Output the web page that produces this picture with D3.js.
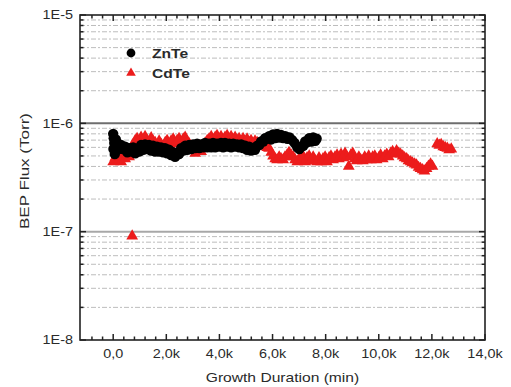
<!DOCTYPE html>
<html>
<head>
<meta charset="utf-8">
<script src="https://cdn.jsdelivr.net/npm/d3@7"></script>
<style>
  body { margin: 0; background: #fff; }
  svg { display: block; }
  text { font-family: "Liberation Sans", Arial, sans-serif; fill: #2a2a2a; }
</style>
</head>
<body>
<div id="chart"></div>
<script>
// ZnTe BEP flux (Torr) vs growth time (min)
const znteTime = [0, 20, 40, 10, 60, 100, 140, 200, 300, 380, 450, 530, 600, 680, 750, 830, 900, 980,
  1050, 1130, 1200, 1280, 1350, 1430, 1500, 1580, 1650, 1730, 1800, 1880, 1950, 2030, 2100, 2180,
  2250, 2330, 2400, 2480, 2560, 2640, 2710, 2790, 2860, 2940, 3010, 3090, 3160, 3240, 3310, 3390,
  3460, 3540, 3610, 3690, 3760, 3840, 3910, 3990, 4060, 4140, 4210, 4290, 4370, 4440, 4520, 4590,
  4670, 4740, 4820, 4890, 4970, 5040, 5120, 5190, 5270, 5340, 5420, 5500, 5570, 5650, 5720, 5800,
  5870, 5950, 6020, 6100, 6170, 6250, 6320, 6400, 6480, 6560, 6640, 6740, 6830, 6930, 7010, 7080,
  7160, 7230, 7310, 7380, 7460, 7530, 7610, 7660];
const znteFlux = [8.0e-7, 7.3e-7, 6.6e-7, 5.8e-7, 5.2e-7, 7.1e-7, 6.1e-7, 5.8e-7, 6.3e-7, 5.8e-7, 6.1e-7,
  5.4e-7, 5.9e-7, 5.5e-7, 6.0e-7, 5.3e-7, 5.8e-7, 5.5e-7, 6.3e-7, 5.7e-7, 6.4e-7, 5.8e-7, 6.3e-7,
  5.6e-7, 6.2e-7, 5.5e-7, 6.1e-7, 5.5e-7, 6.0e-7, 5.4e-7, 5.9e-7, 5.3e-7, 5.7e-7, 5.1e-7, 5.4e-7,
  4.9e-7, 5.3e-7, 5.2e-7, 5.9e-7, 5.6e-7, 6.2e-7, 5.7e-7, 6.3e-7, 5.8e-7, 6.4e-7, 5.9e-7, 6.5e-7,
  5.9e-7, 6.4e-7, 6.0e-7, 6.6e-7, 6.0e-7, 6.5e-7, 6.0e-7, 6.6e-7, 6.0e-7, 6.5e-7, 6.1e-7, 6.6e-7,
  6.0e-7, 6.6e-7, 6.1e-7, 6.5e-7, 6.0e-7, 6.5e-7, 6.1e-7, 6.4e-7, 6.0e-7, 6.4e-7, 5.9e-7, 6.2e-7,
  5.7e-7, 6.1e-7, 5.6e-7, 5.9e-7, 5.7e-7, 6.2e-7, 6.3e-7, 6.8e-7, 6.8e-7, 7.3e-7, 7.2e-7, 7.6e-7,
  7.1e-7, 7.9e-7, 7.3e-7, 8.0e-7, 7.4e-7, 7.8e-7, 7.3e-7, 7.6e-7, 7.2e-7, 7.4e-7, 7.0e-7, 6.6e-7,
  6.0e-7, 5.8e-7, 6.1e-7, 6.2e-7, 6.8e-7, 6.7e-7, 7.3e-7, 6.8e-7, 7.4e-7, 6.9e-7, 7.2e-7];

// CdTe BEP flux (Torr) vs growth time (min)
const cdteTime = [0, 75, 150, 230, 300, 380, 450, 530, 600, 680, 715, 750, 830, 900, 980, 1050, 1130,
  1200, 1280, 1350, 1430, 1500, 1580, 1660, 1730, 1810, 1880, 1960, 2030, 2110, 2180, 2260, 2330,
  2410, 2480, 2560, 2640, 2710, 2790, 2860, 2940, 3010, 3090, 3160, 3240, 3310, 3390, 3460, 3540,
  3610, 3690, 3760, 3840, 3910, 3990, 4060, 4140, 4210, 4290, 4370, 4440, 4520, 4590, 4670, 4740,
  4820, 4890, 4970, 5040, 5120, 5190, 5270, 5340, 5420, 5500, 5570, 5650, 5720, 5800, 5870, 5950,
  6020, 6100, 6170, 6250, 6320, 6400, 6470, 6550, 6620, 6700, 6780, 6850, 6930, 7000, 7080, 7150,
  7230, 7300, 7380, 7450, 7530, 7600, 7680, 7750, 7830, 7900, 7980, 8050, 8130, 8200, 8280, 8350,
  8430, 8500, 8580, 8650, 8730, 8800, 8870, 8950, 9020, 9100, 9170, 9250, 9320, 9400, 9470, 9550,
  9620, 9700, 9770, 9850, 9920, 10000, 10070, 10150, 10220, 10300, 10370, 10450, 10520, 10600,
  10670, 10750, 10820, 10900, 10970, 11050, 11120, 11200, 11270, 11350, 11420, 11500, 11570, 11650,
  11720, 11800, 11870, 11950, 12020, 12200, 12280, 12350, 12430, 12500, 12580, 12650, 12730];
const cdteFlux = [4.5e-7, 4.9e-7, 5.4e-7, 4.7e-7, 4.5e-7, 5.1e-7, 4.8e-7, 5.4e-7, 5.0e-7, 6.0e-7, 9.3e-8,
  6.5e-7, 7.1e-7, 7.4e-7, 6.8e-7, 7.6e-7, 7.0e-7, 7.7e-7, 7.1e-7, 6.8e-7, 7.5e-7, 7.0e-7, 6.8e-7,
  6.4e-7, 7.0e-7, 6.5e-7, 6.3e-7, 6.8e-7, 7.1e-7, 6.5e-7, 7.0e-7, 7.3e-7, 6.6e-7, 7.1e-7, 7.4e-7,
  6.8e-7, 7.3e-7, 7.6e-7, 6.9e-7, 6.6e-7, 6.2e-7, 5.8e-7, 5.4e-7, 5.9e-7, 6.3e-7, 5.6e-7, 6.2e-7,
  6.7e-7, 7.1e-7, 7.3e-7, 7.7e-7, 7.2e-7, 7.6e-7, 7.9e-7, 7.2e-7, 7.7e-7, 7.2e-7, 7.6e-7, 7.9e-7,
  7.2e-7, 7.7e-7, 7.2e-7, 7.6e-7, 7.1e-7, 7.4e-7, 6.9e-7, 7.4e-7, 6.9e-7, 7.3e-7, 6.8e-7, 7.1e-7,
  6.6e-7, 7.0e-7, 6.8e-7, 6.5e-7, 6.8e-7, 6.3e-7, 6.6e-7, 6.1e-7, 6.0e-7, 5.5e-7, 5.1e-7, 4.8e-7,
  4.7e-7, 5.0e-7, 4.8e-7, 4.7e-7, 5.0e-7, 5.2e-7, 5.5e-7, 5.2e-7, 5.0e-7, 4.7e-7, 4.5e-7, 4.8e-7,
  4.6e-7, 5.1e-7, 4.5e-7, 4.9e-7, 5.1e-7, 4.6e-7, 5.0e-7, 4.6e-7, 4.5e-7, 4.9e-7, 4.5e-7, 4.8e-7,
  5.0e-7, 4.5e-7, 4.9e-7, 5.1e-7, 4.7e-7, 5.0e-7, 5.2e-7, 4.8e-7, 5.3e-7, 4.9e-7, 5.4e-7, 5.0e-7,
  4.1e-7, 5.2e-7, 5.4e-7, 4.8e-7, 4.6e-7, 5.0e-7, 4.7e-7, 4.6e-7, 5.0e-7, 4.7e-7, 5.1e-7, 4.7e-7,
  5.0e-7, 5.1e-7, 4.7e-7, 4.9e-7, 5.2e-7, 4.8e-7, 5.1e-7, 5.3e-7, 5.0e-7, 5.4e-7, 5.6e-7, 5.3e-7,
  5.7e-7, 5.4e-7, 5.3e-7, 5.1e-7, 4.9e-7, 4.8e-7, 4.6e-7, 4.5e-7, 4.4e-7, 4.3e-7, 4.2e-7, 4.0e-7,
  3.9e-7, 3.8e-7, 3.7e-7, 3.9e-7, 4.1e-7, 4.3e-7, 4.1e-7, 6.6e-7, 6.4e-7, 6.5e-7, 6.2e-7, 6.1e-7,
  6.0e-7, 5.8e-7, 5.9e-7];

const xTickValues = [0, 2000, 4000, 6000, 8000, 10000, 12000, 14000];
const xTickLabels = ["0,0", "2,0k", "4,0k", "6,0k", "8,0k", "10,0k", "12,0k", "14,0k"];
const yTickValues = [1e-8, 1e-7, 1e-6, 1e-5];
const yTickLabels = ["1E-8", "1E-7", "1E-6", "1E-5"];
const seriesNames = ["ZnTe", "CdTe"];

const width = 511, height = 387;
const margin = { top: 15, right: 26, bottom: 47, left: 80 };
const stretchX = 1.2; // the picture is widened a little

const svg = d3.select("#chart").append("svg")
  .attr("width", width).attr("height", height);

const x = d3.scaleLinear().domain([-1250, 14000]).range([margin.left, width - margin.right]);
const y = d3.scaleLog().domain([1e-8, 1e-5]).range([height - margin.bottom, margin.top]);

const x0 = margin.left, x1 = width - margin.right;
const y0 = height - margin.bottom, y1 = margin.top;

function widen(sel, f) {
  sel.each(function () {
    const w = this.getComputedTextLength();
    d3.select(this).attr("textLength", w * f).attr("lengthAdjust", "spacingAndGlyphs");
  });
}

// dashed minor grid
const minorY = y.ticks().filter((d) => !yTickValues.some((v) => Math.abs(v - d) / v < 1e-6));
svg.append("g")
  .selectAll("line")
  .data(minorY)
  .enter()
  .append("line")
  .attr("x1", x0).attr("x2", x1)
  .attr("y1", (d) => y(d)).attr("y2", (d) => y(d))
  .attr("stroke", "#bdbdbd")
  .attr("stroke-width", 1)
  .attr("stroke-dasharray", "5,2,2,2");

// decade lines
svg.append("g")
  .selectAll("line")
  .data([1e-7, 1e-6])
  .enter()
  .append("line")
  .attr("x1", x0).attr("x2", x1)
  .attr("y1", (d) => y(d)).attr("y2", (d) => y(d))
  .attr("stroke", (d) => (d === 1e-6 ? "#6e6e6e" : "#a8a8a8"))
  .attr("stroke-width", 2);

// data
const cdte = cdteTime.map((t, i) => [t, cdteFlux[i]]);
const znte = znteTime.map((t, i) => [t, znteFlux[i]]);
const tri = d3.symbol().type(d3.symbolTriangle).size(60);

svg.append("g")
  .selectAll("path")
  .data(cdte)
  .enter()
  .append("path")
  .attr("d", tri)
  .attr("transform", (d) => `translate(${x(d[0])},${y(d[1]) + 1})`)
  .attr("fill", "#ec1c1c");

svg.append("g")
  .selectAll("circle")
  .data(znte)
  .enter()
  .append("circle")
  .attr("cx", (d) => x(d[0]))
  .attr("cy", (d) => y(d[1]))
  .attr("r", 5.2)
  .attr("fill", "#000");

// axes (ticks point inward)
const xMinor = d3.range(-800, 14001, 400).filter((d) => d % 2000 !== 0);

function tickRow(yPos, dir) {
  const g = svg.append("g");
  g.selectAll(".minor")
    .data(xMinor)
    .enter()
    .append("line")
    .attr("x1", (d) => x(d)).attr("x2", (d) => x(d))
    .attr("y1", yPos).attr("y2", yPos + dir * 3.5)
    .attr("stroke", "#222").attr("stroke-width", 1.5);
  g.selectAll(".major")
    .data(xTickValues)
    .enter()
    .append("line")
    .attr("x1", (d) => x(d)).attr("x2", (d) => x(d))
    .attr("y1", yPos).attr("y2", yPos + dir * 6)
    .attr("stroke", "#222").attr("stroke-width", 1.5);
}
tickRow(y0, -1);
tickRow(y1, 1);

function tickCol(xPos, dir) {
  const g = svg.append("g");
  g.selectAll(".minor")
    .data(minorY)
    .enter()
    .append("line")
    .attr("x1", xPos).attr("x2", xPos + dir * 3.5)
    .attr("y1", (d) => y(d)).attr("y2", (d) => y(d))
    .attr("stroke", "#222").attr("stroke-width", 1.5);
  g.selectAll(".major")
    .data(yTickValues)
    .enter()
    .append("line")
    .attr("x1", xPos).attr("x2", xPos + dir * 6)
    .attr("y1", (d) => y(d)).attr("y2", (d) => y(d))
    .attr("stroke", "#222").attr("stroke-width", 1.5);
}
tickCol(x0, 1);
tickCol(x1, -1);

// frame
svg.append("rect")
  .attr("x", x0).attr("y", y1)
  .attr("width", x1 - x0).attr("height", y0 - y1)
  .attr("fill", "none")
  .attr("stroke", "#222")
  .attr("stroke-width", 1.6);

// tick labels
svg.append("g")
  .selectAll("text")
  .data(xTickValues)
  .enter()
  .append("text")
  .attr("x", (d) => x(d))
  .attr("y", y0 + 18)
  .attr("text-anchor", "middle")
  .attr("font-size", "12px")
  .text((d, i) => xTickLabels[i])
  .call(widen, stretchX);

svg.append("g")
  .selectAll("text")
  .data(yTickValues)
  .enter()
  .append("text")
  .attr("x", x0 - 7)
  .attr("y", (d) => y(d) + 4.3)
  .attr("text-anchor", "end")
  .attr("font-size", "12px")
  .text((d, i) => yTickLabels[i])
  .call(widen, stretchX);

// axis titles
svg.append("text")
  .attr("x", (x0 + x1) / 2)
  .attr("y", 382)
  .attr("text-anchor", "middle")
  .attr("font-size", "13px")
  .text("Growth Duration (min)")
  .call(widen, stretchX);

svg.append("text")
  .attr("transform", `translate(29,171) rotate(-90)`)
  .attr("text-anchor", "middle")
  .attr("font-size", "13px")
  .text("BEP Flux (Torr)")
  .attr("textLength", 116)
  .attr("lengthAdjust", "spacingAndGlyphs");

// legend
const legend = svg.append("g");
legend.append("circle").attr("cx", 131).attr("cy", 53).attr("r", 4.4).attr("fill", "#000");
legend.append("path")
  .attr("d", d3.symbol().type(d3.symbolTriangle).size(40))
  .attr("transform", "translate(131,73)")
  .attr("fill", "#ec1c1c");
legend.selectAll("text")
  .data(seriesNames)
  .enter()
  .append("text")
  .attr("x", 152)
  .attr("y", (d, i) => 58 + i * 20)
  .attr("font-size", "13px")
  .attr("font-weight", "bold")
  .text((d) => d)
  .call(widen, stretchX);
</script>
</body>
</html>
